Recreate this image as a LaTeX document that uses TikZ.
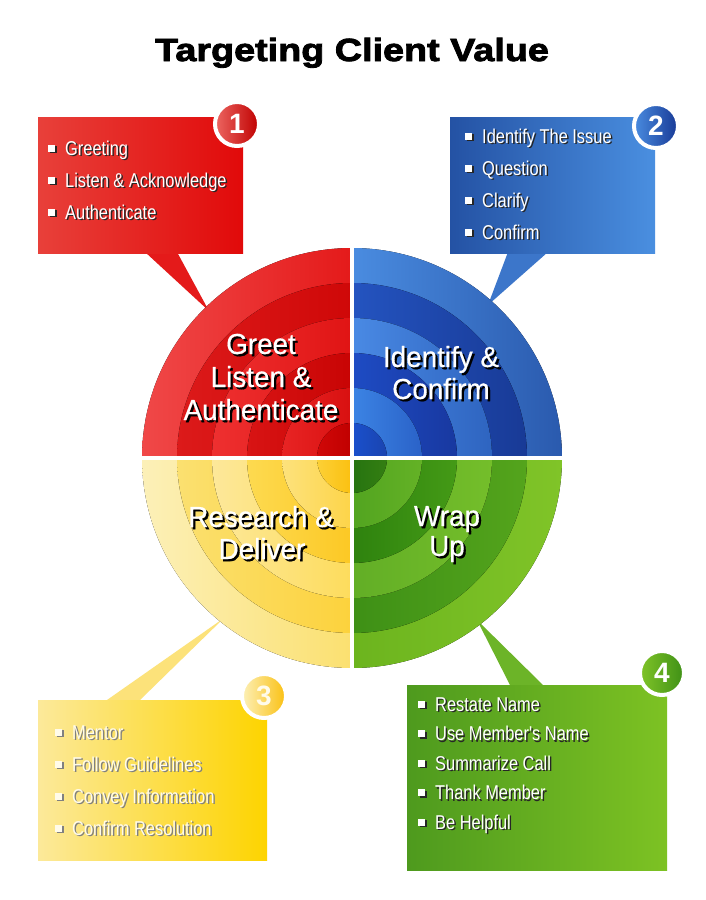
\documentclass[tikz,border=0pt]{standalone}
\usepackage{fontspec}
\setmainfont{Liberation Sans}
\newfontfamily\itemfont{Liberation Sans}[FakeStretch=0.82]
\newfontfamily\labfont{Liberation Sans}[FakeStretch=0.96, FakeBold=0.4]
\newfontfamily\titlefont{Liberation Sans}[FakeStretch=1.18, BoldFeatures={FakeBold=2.6}]

% quadrant band colours
\definecolor{r1l}{HTML}{F04848}\definecolor{r1r}{HTML}{E41A1A}
\definecolor{r2l}{HTML}{DC1A1A}\definecolor{r2r}{HTML}{CF0808}
\definecolor{r3l}{HTML}{EE3030}\definecolor{r3r}{HTML}{E01414}
\definecolor{r4l}{HTML}{D81414}\definecolor{r4r}{HTML}{C80404}
\definecolor{r5l}{HTML}{E82424}\definecolor{r5r}{HTML}{D81010}
\definecolor{r6l}{HTML}{D00808}\definecolor{r6r}{HTML}{C00000}
\definecolor{b1l}{HTML}{4A8CE0}\definecolor{b1r}{HTML}{2A5AAE}
\definecolor{b2l}{HTML}{2454C0}\definecolor{b2r}{HTML}{183A96}
\definecolor{b3l}{HTML}{4A8AE4}\definecolor{b3r}{HTML}{2E64C0}
\definecolor{b4l}{HTML}{1E4CC4}\definecolor{b4r}{HTML}{1838A0}
\definecolor{b5l}{HTML}{3C84E4}\definecolor{b5r}{HTML}{2A62C8}
\definecolor{b6l}{HTML}{1A50CC}\definecolor{b6r}{HTML}{1A44B0}
\definecolor{y1l}{HTML}{FCF0B8}\definecolor{y1r}{HTML}{FBE070}
\definecolor{y2l}{HTML}{FBE070}\definecolor{y2r}{HTML}{FCD23C}
\definecolor{y3l}{HTML}{FDE89A}\definecolor{y3r}{HTML}{FDDC5C}
\definecolor{y4l}{HTML}{FDDA50}\definecolor{y4r}{HTML}{FCC824}
\definecolor{y5l}{HTML}{FDE27C}\definecolor{y5r}{HTML}{FDD448}
\definecolor{y6l}{HTML}{FCD036}\definecolor{y6r}{HTML}{FBC010}
\definecolor{g1l}{HTML}{6CB41E}\definecolor{g1r}{HTML}{80C428}
\definecolor{g2l}{HTML}{3E9016}\definecolor{g2r}{HTML}{54A41C}
\definecolor{g3l}{HTML}{62AE26}\definecolor{g3r}{HTML}{74BE2A}
\definecolor{g4l}{HTML}{2E820E}\definecolor{g4r}{HTML}{449A16}
\definecolor{g5l}{HTML}{52A420}\definecolor{g5r}{HTML}{64B226}
\definecolor{g6l}{HTML}{267410}\definecolor{g6r}{HTML}{347E12}
% box colours
\definecolor{boxRl}{HTML}{E8403A}\definecolor{boxRr}{HTML}{E10A0A}
\definecolor{boxBl}{HTML}{2452A4}\definecolor{boxBr}{HTML}{4A8FE0}
\definecolor{boxYl}{HTML}{FCE99A}\definecolor{boxYr}{HTML}{FDD400}
\definecolor{boxGl}{HTML}{4E9A1E}\definecolor{boxGr}{HTML}{7DC223}
\definecolor{tailR}{HTML}{E41A1A}
\definecolor{tailB}{HTML}{3C76CA}
\definecolor{tailY}{HTML}{FCE27A}
\definecolor{tailG}{HTML}{6CB428}
\definecolor{cream}{HTML}{FFFBEA}

\newcommand\shdw[2][black!85]{\makebox[0pt][l]{\kern1.5pt\raisebox{-1.5pt}{\textcolor{#1}{#2}}}#2}
\newcommand\bigshdw[1]{\makebox[0pt][l]{\kern2.2pt\raisebox{-2.2pt}{\textcolor{black}{#1}}}#1}
\newcommand\bul{\raisebox{3.5pt}{\rule{7pt}{7pt}}}

\tikzset{
  itemtext/.style={anchor=base west, inner sep=0pt, text=white, font=\fontsize{20}{24}\itemfont,
                   text height=15pt, text depth=4pt},
  labtext/.style={anchor=base, inner sep=0pt, text=white, font=\fontsize{29}{33}\labfont,
                  text height=21pt, text depth=3pt},
  badge/.style={circle, minimum size=44pt, inner sep=0pt, draw=white, line width=4pt,
                text=white, font=\fontsize{28}{28}\selectfont\bfseries},
}

\begin{document}
\begin{tikzpicture}[x=1pt, y=-1pt]
\useasboundingbox[fill=white] (0,0) rectangle (705,900);

% title
\node[anchor=base, inner sep=0pt, font=\fontsize{32}{36}\titlefont\bfseries] (title) at (352,61) {Targeting Client Value};

\coordinate (C) at (352,458);

% speech-bubble tails
\fill[tailR] (145,252) -- (177,252) -- (209,311) -- cycle;
\fill[tailB] (508,252) -- (548,252) -- (488,305) -- cycle;
\fill[tailY] (107,700) -- (140,700) -- (224,618) -- cycle;
\fill[tailG] (510,685) -- (543,685) -- (477,620) -- cycle;

% boxes
\fill[left color=boxRl, right color=boxRr] (38,117) rectangle (243,253);
\fill[left color=boxBl, right color=boxBr] (450,117) rectangle (655,253);
\fill[left color=boxYl, right color=boxYr] (38,700) rectangle (267,860);
\fill[left color=boxGl, right color=boxGr] (407,685) rectangle (667,870);

% concentric quadrants
\foreach \r/\cl/\cr in {210/r1l/r1r,175/r2l/r2r,140/r3l/r3r,105/r4l/r4r,70/r5l/r5r,35/r6l/r6r}
  \fill[left color=\cl, right color=\cr] (C) -- ++(180:\r) arc[start angle=180, end angle=270, radius=\r] -- cycle;
\foreach \r/\cl/\cr in {210/b1l/b1r,175/b2l/b2r,140/b3l/b3r,105/b4l/b4r,70/b5l/b5r,35/b6l/b6r}
  \fill[left color=\cl, right color=\cr] (C) -- ++(270:\r) arc[start angle=270, end angle=360, radius=\r] -- cycle;
\foreach \r/\cl/\cr in {210/g1l/g1r,175/g2l/g2r,140/g3l/g3r,105/g4l/g4r,70/g5l/g5r,35/g6l/g6r}
  \fill[left color=\cl, right color=\cr] (C) -- ++(0:\r) arc[start angle=0, end angle=90, radius=\r] -- cycle;
\foreach \r/\cl/\cr in {210/y1l/y1r,175/y2l/y2r,140/y3l/y3r,105/y4l/y4r,70/y5l/y5r,35/y6l/y6r}
  \fill[left color=\cl, right color=\cr] (C) -- ++(90:\r) arc[start angle=90, end angle=180, radius=\r] -- cycle;

% white cross
\draw[white, line width=4pt] ([yshift=-213pt]C) -- ([yshift=213pt]C);
\draw[white, line width=4pt] ([xshift=-213pt]C) -- ([xshift=213pt]C);

% badges
\node[badge, left color=boxRl!80!white, right color=r6r] (n1) at (237,124) {1};
\node[badge, left color=b1l, right color=b2r] (n2) at (656,126) {2};
\node[badge, left color=y1l, right color=y6r, text=cream] (n3) at (264,696) {3};
\node[badge, left color=g1r, right color=g2l] (n4) at (662,673) {4};

% box 1 items
\foreach \t [count=\n] in {Greeting, Listen \& Acknowledge, Authenticate}
  \node[itemtext] (a\n) at (48,{155+32*(\n-1)}) {\shdw{\bul}\hspace{10pt}\shdw{\t}};
% box 2 items
\foreach \t [count=\n] in {Identify The Issue, Question, Clarify, Confirm}
  \node[itemtext] (b\n) at (465,{143+32*(\n-1)}) {\shdw{\bul}\hspace{10pt}\shdw{\t}};
% box 3 items
\foreach \t [count=\n] in {Mentor, Follow Guidelines, Convey Information, Confirm Resolution}
  \node[itemtext, text=cream] (c\n) at (55,{739+32*(\n-1)}) {\shdw[black!50]{\bul}\hspace{10pt}\shdw[black!50]{\t}};
% box 4 items
\foreach \t [count=\n] in {Restate Name, Use Member's Name, Summarize Call, Thank Member, Be Helpful}
  \node[itemtext] (d\n) at (418,{711+29.6*(\n-1)}) {\shdw{\bul}\hspace{10pt}\shdw{\t}};

% circle labels
\node[labtext] (q1a) at (261,354) {\bigshdw{Greet}};
\node[labtext] (q1b) at (261,387) {\bigshdw{Listen \&}};
\node[labtext] (q1c) at (261,420) {\bigshdw{Authenticate}};
\node[labtext] (q2a) at (441,367) {\bigshdw{Identify \&}};
\node[labtext] (q2b) at (441,399) {\bigshdw{Confirm}};
\node[labtext] (q3a) at (261,527) {\bigshdw{Research \&}};
\node[labtext] (q3b) at (262,559) {\bigshdw{Deliver}};
\node[labtext] (q4a) at (447,526) {\bigshdw{Wrap}};
\node[labtext] (q4b) at (447,556) {\bigshdw{Up}};
\end{tikzpicture}
\end{document}
